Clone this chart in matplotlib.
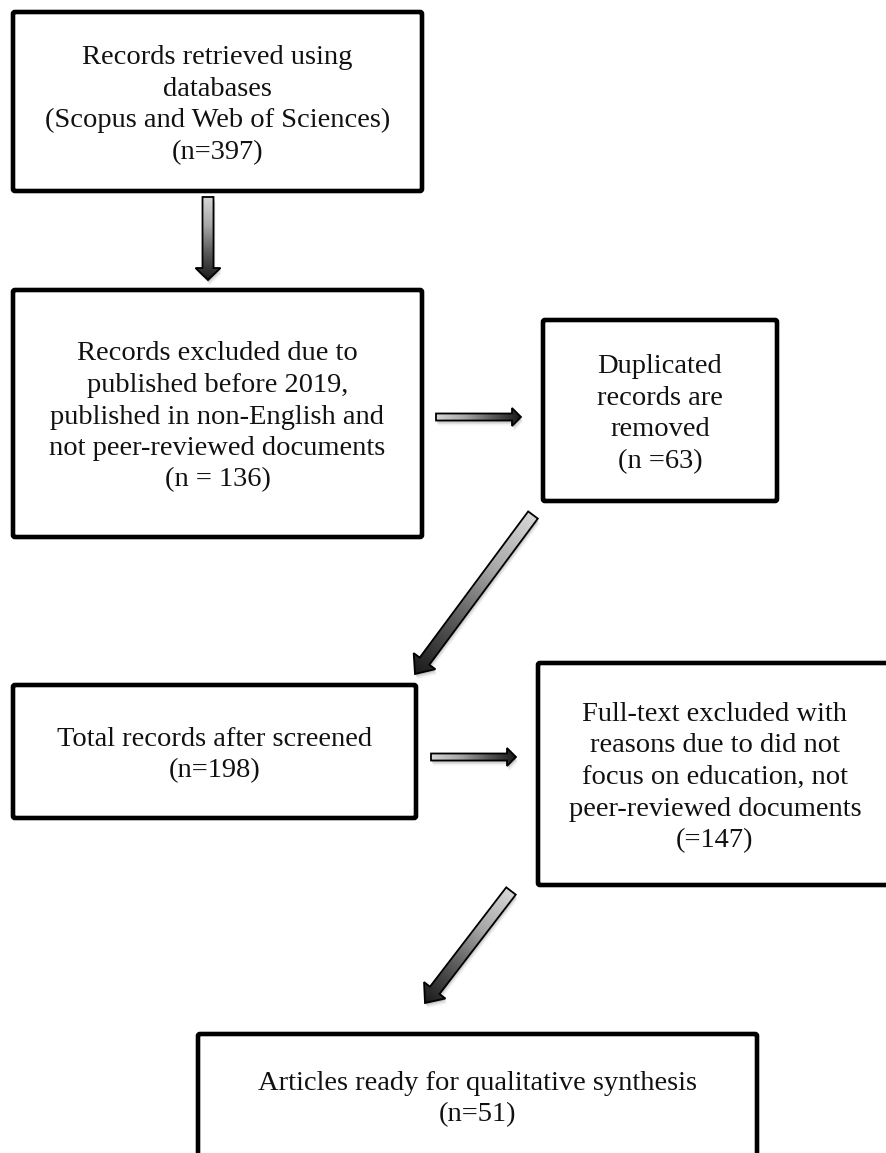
import numpy as np
import matplotlib.pyplot as plt
from matplotlib.patches import Polygon, FancyBboxPatch
from matplotlib.colors import LinearSegmentedColormap

# flow stages (text lines) and record counts
stage_text = [
    ["Records retrieved using", "databases", "(Scopus and Web of Sciences)"],
    ["Records excluded due to", "published before 2019,",
     "published in non-English and", "not peer-reviewed documents"],
    ["Duplicated", "records are", "removed"],
    ["Total records after screened"],
    ["Full-text excluded with", "reasons due to did not",
     "focus on education, not", "peer-reviewed documents"],
    ["Articles ready for qualitative synthesis"],
]
counts = [397, 136, 63, 198, 147, 51]
count_fmt = ["(n={})", "(n = {})", "(n ={})", "(n={})", "(={})", "(n={})"]

# layout in pixels: left, top, right, bottom
boxes = [
    (13, 12, 422, 191),
    (13, 290, 422, 537),
    (543, 320, 777, 501),
    (13, 685, 416, 818),
    (538, 663, 892, 885),
    (198, 1034, 757, 1157),
]
# tail, tip, shaft width, head width, head length
arrows = [
    ((208, 197), (208, 280), 11, 25, 12),
    ((436, 417), (521, 417), 7, 18, 9),
    ((533, 515), (415, 674), 12, 27, 16),
    ((431, 757), (516, 757), 7, 18, 9),
    ((511, 891), (425, 1003), 12, 27, 16),
]

W, H = 886, 1153
fig = plt.figure(figsize=(W / 100, H / 100), dpi=100)
ax = fig.add_axes([0, 0, 1, 1])

grad = LinearSegmentedColormap.from_list(
    "grad", ["#d6d6d6", "#a8a8a8", "#5a5a5a", "#1a1a1a"])


def draw_arrow(tail, tip, sw, hw, hl):
    p0 = np.array(tail, float)
    p1 = np.array(tip, float)
    d = p1 - p0
    L = np.hypot(*d)
    u = d / L
    n = np.array([-u[1], u[0]])
    b = p1 - u * hl
    pts = np.array([p0 + n * sw / 2, b + n * sw / 2, b + n * hw / 2, p1,
                    b - n * hw / 2, b - n * sw / 2, p0 - n * sw / 2])
    # soft drop shadow
    for k, a in [(5, 0.05), (3.5, 0.08), (2, 0.12)]:
        ax.add_patch(Polygon(pts + [k * 0.4, k], closed=True, fc="k",
                             ec="none", alpha=a, zorder=1))
    poly = Polygon(pts, closed=True, fc="none", ec="black", lw=1.3, zorder=3)
    xs, ys = pts.T
    xg = np.linspace(xs.min(), xs.max(), 120)
    yg = np.linspace(ys.min(), ys.max(), 120)
    X, Y = np.meshgrid(xg, yg)
    t = ((X - p0[0]) * u[0] + (Y - p0[1]) * u[1]) / L
    im = ax.imshow(t, cmap=grad, vmin=0, vmax=1, origin="lower",
                   extent=(xs.min(), xs.max(), ys.min(), ys.max()),
                   interpolation="bilinear", zorder=2)
    ax.add_patch(poly)
    im.set_clip_path(poly)


for i, (x0, y0, x1, y1) in enumerate(boxes):
    ax.add_patch(FancyBboxPatch((x0, y0), x1 - x0, y1 - y0,
                                boxstyle="round,pad=0,rounding_size=2",
                                fc="white", ec="black", lw=3.3, zorder=2))
    lines = stage_text[i] + [count_fmt[i].format(counts[i])]
    cx, cy = (x0 + x1) / 2, (y0 + y1) / 2
    nl = len(lines)
    for j, line in enumerate(lines):
        y = cy + (j - (nl - 1) / 2) * 31.5 + 10
        ax.text(cx, y, line, ha="center", va="baseline", fontsize=20.5,
                family="Liberation Serif", color="#111111", zorder=4)

for tail, tip, sw, hw, hl in arrows:
    draw_arrow(tail, tip, sw, hw, hl)

ax.set_xlim(0, W)
ax.set_ylim(H, 0)
ax.set_aspect("auto")
ax.axis("off")
fig.savefig("out.png", dpi=100, facecolor="white")
